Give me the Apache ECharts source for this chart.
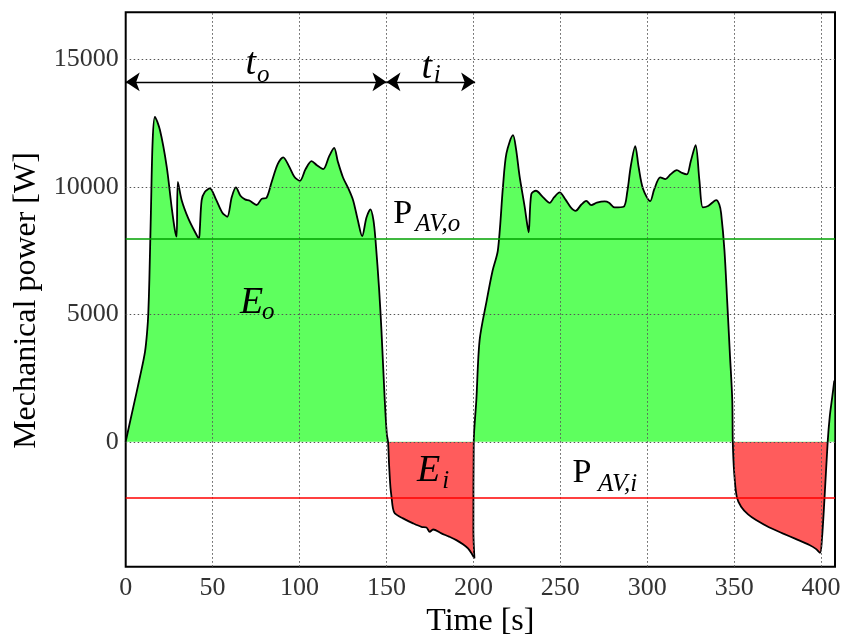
<!DOCTYPE html>
<html>
<head>
<meta charset="utf-8">
<script src="https://cdn.jsdelivr.net/npm/echarts@6/dist/echarts.min.js"></script>
<style>
  html, body { margin: 0; padding: 0; background: #fff; }
  #chart { width: 843px; height: 635px; }
</style>
</head>
<body>
<div id="chart"></div>
<script>
// time [s] and mechanical power [W]
const time = [
  0, 0.6, 4.4, 8.2, 11.1, 12.4, 13.0, 13.6, 14.5, 15.5, 16.8, 19.7, 23.6, 26.4, 28.3, 29.3, 30.0,
  32.2, 36, 39.8, 42.1, 42.6, 43.7, 45.5, 48.4, 52, 55.5, 58.4, 61, 63.4, 66, 68.6, 71.4, 75.3,
  78.2, 81, 84, 87.5, 90.6, 94, 97, 100.2, 103.5, 106.9, 110, 113.6, 117, 119.9, 122, 125, 128,
  130.8, 133.5, 136, 138.5, 140.8, 142.5, 143.7, 145.8, 147.1, 149, 150.2, 150.9,
  151.5, 152.3, 152.9, 153.7, 154.8, 159.5, 165.3, 170.1, 173, 174.9, 176.8, 181.6, 186, 190.2,
  194, 196.9, 199, 200.6, 200.0, 200.2, 201.7, 203.6, 207.7, 211, 214.1, 217, 219, 222.8, 224.5,
  226.6, 229.5, 230.9, 231.8, 233.3, 236, 240, 243.9, 246.5, 249.6, 253, 256, 258.8, 262, 264.9,
  267.8, 271, 275.5, 278, 281.2, 286.4, 288.5, 290.5, 293.1, 295, 297.5, 301.7, 304, 307.5, 310.5,
  313.5, 317, 320, 322.8, 325, 327.8, 330, 332, 335, 339.7, 341.5, 342.5, 344.4, 346, 347.5, 348.9,
  349.2, 350, 351.5, 354, 358, 362.6, 370, 377.9, 385, 393.3, 397, 399.4, 400.5, 401.9, 403.8,
  405, 406.5, 407.6
];
const power = [
  0, 200, 1370, 2550, 3530, 4380, 5040, 6340, 9000, 11800, 12750, 12230, 10790, 9220, 8305, 8050, 10200,
  9480, 8765, 8240, 7980, 8305, 9480, 9800, 9940, 9500, 9000, 8830, 9600, 9980, 9650, 9510, 9455, 9290,
  9530, 9573, 10200, 10900, 11160, 10800, 10400, 10240, 10700, 11010, 10850, 10700, 11200, 11530, 11000, 10370, 9950,
  9480, 8700, 8070, 8800, 9120, 8700, 7913, 5950, 4380, 1640, 300, 0,
  -900, -1800, -2160, -2600, -2810, -3005, -3200, -3335, -3360, -3530, -3440, -3594, -3720, -3856,
  -4020, -4183, -4380, -4575, -3500, 0, 1640, 4000, 5560, 6700, 7520, 10000, 11313, 12030, 11500,
  10400, 9220, 8550, 8215, 9718, 9850, 9600, 9376, 9600, 9784, 9500, 9200, 9062, 9300, 9455,
  9286, 9380, 9430, 9380, 9196, 9220, 9800, 10800, 11600, 10800, 9940, 9443, 9900, 10372, 10306,
  10500, 10659, 10550, 10490, 11000, 11640, 10260, 9196, 9250, 9482, 9300, 8960, 7520, 5500, 3500, 1640,
  0, -1200, -2160, -2550, -2850, -3070, -3350, -3590, -3800, -4050, -4200, -4355, -3800, -2290, 0,
  1000, 1800, 2400
];

const xTicks = [0, 50, 100, 150, 200, 250, 300, 350, 400];
const yTicks = [0, 5000, 10000, 15000];
const gridX = [50, 100, 150, 200, 250, 300, 350, 400];
const gridY = [0, 5000, 10000, 15000];

const avgOut = 7950;   // P_AV,o
const avgIn = -2200;   // P_AV,i

// duration arrows [start, end] at height arrowY
const arrowY = 14120;
const spanOut = [0, 150];
const spanIn = [150, 201];

// annotation texts: [text, t, power, kind]
const labels = [
  ['t', 71.9, 14810, 'big'], ['o', 79.1, 14386, 'sub'],
  ['t', 173.2, 14660, 'big'], ['i', 179.2, 14367, 'sub'],
  ['E', 72.4, 5430, 'big'], ['o', 82.0, 5069, 'sub'],
  ['E', 174.3, -1150, 'big'], ['i', 184.1, -1542, 'sub'],
  ['P', 159.4, 8925, 'roman'], ['AV,o', 179.5, 8541, 'sub'],
  ['P', 262.5, -1208, 'roman'], ['AV,i', 282.9, -1660, 'sub']
];

const points = time.map((t, i) => [t, power[i]]);
const serif = 'Liberation Serif';
const green = '#5eff5e';
const red = '#ff5c5c';

const labelStyle = {
  big: { fontSize: 38, fontStyle: 'italic' },
  sub: { fontSize: 25, fontStyle: 'italic' },
  roman: { fontSize: 34, fontStyle: 'normal' }
};

const chart = echarts.init(document.getElementById('chart'), null, { renderer: 'canvas' });

const option = {
  animation: false,
  backgroundColor: '#fff',
  grid: {
    left: 125.7,
    right: 8,
    top: 12.3,
    bottom: 68.3,
    containLabel: false,
    outerBoundsMode: 'none',
    show: true,
    borderColor: '#000',
    borderWidth: 2,
    backgroundColor: 'transparent'
  },
  xAxis: {
    type: 'value',
    min: 0,
    max: 408,
    name: 'Time [s]',
    nameLocation: 'middle',
    nameGap: 38,
    nameTextStyle: { fontFamily: serif, fontSize: 32, color: '#000' },
    axisLine: { show: false },
    axisTick: { show: false, customValues: xTicks },
    splitLine: { show: false },
    axisLabel: {
      customValues: xTicks,
      fontFamily: serif,
      fontSize: 26,
      color: '#333',
      margin: 8,
      formatter: v => String(v)
    }
  },
  yAxis: {
    type: 'value',
    min: -4900,
    max: 16850,
    name: 'Mechanical power [W]',
    nameLocation: 'middle',
    nameGap: 82,
    nameTextStyle: { fontFamily: serif, fontSize: 32, color: '#000', padding: [0, 22, 0, 0] },
    axisLine: { show: false },
    axisTick: { show: false, customValues: yTicks },
    splitLine: { show: false },
    axisLabel: {
      customValues: yTicks,
      fontFamily: serif,
      fontSize: 26,
      color: '#333',
      margin: 7,
      formatter: v => String(v)
    }
  },
  series: [
    {
      name: 'fill',
      type: 'line',
      data: points,
      smooth: 0.3,
      showSymbol: false,
      silent: true,
      z: 1,
      lineStyle: { width: 0, opacity: 0 },
      areaStyle: { opacity: 1, origin: 0, color: green }
    },
    {
      name: 'grid',
      type: 'line',
      data: [],
      z: 2,
      silent: true,
      markLine: {
        silent: true,
        symbol: 'none',
        animation: false,
        label: { show: false },
        lineStyle: { type: [1.5, 2.5], color: '#555', width: 1 },
        data: gridX.map(v => ({ xAxis: v })).concat(gridY.map(v => ({ yAxis: v })))
      }
    },
    {
      name: 'curve',
      type: 'line',
      data: points,
      smooth: 0.3,
      showSymbol: false,
      z: 3,
      lineStyle: { color: '#000', width: 1.8 },
      markLine: {
        silent: true,
        symbol: 'none',
        animation: false,
        label: { show: false },
        data: [
          { yAxis: avgOut, lineStyle: { color: '#00a000', width: 1.5, type: 'solid' } },
          { yAxis: avgIn, lineStyle: { color: '#ff0000', width: 1.5, type: 'solid' } }
        ]
      }
    },
    {
      name: 'arrows',
      type: 'line',
      data: [],
      z: 4,
      markLine: {
        silent: true,
        animation: false,
        symbol: ['arrow', 'arrow'],
        symbolSize: 14,
        label: { show: false },
        lineStyle: { color: '#000', width: 1.3, type: 'solid' },
        data: [
          [{ coord: [spanOut[0], arrowY] }, { coord: [spanOut[1], arrowY] }],
          [{ coord: [spanIn[0], arrowY] }, { coord: [spanIn[1], arrowY] }]
        ]
      },
      markPoint: {
        silent: true,
        animation: false,
        symbol: 'circle',
        symbolSize: 0,
        data: labels.map(([text, t, p, kind]) => ({
          coord: [t, p],
          label: {
            show: true,
            position: 'inside',
            formatter: text,
            color: '#000',
            fontFamily: serif,
            fontSize: labelStyle[kind].fontSize,
            fontStyle: labelStyle[kind].fontStyle
          }
        }))
      }
    }
  ]
};

chart.setOption(option);

// split the fill colour at power = 0 with a gradient in pixel space
const y0 = chart.convertToPixel({ gridIndex: 0 }, [0, 0])[1];
chart.setOption({
  series: [{
    name: 'fill',
    areaStyle: {
      color: {
        type: 'linear', x: 0, y: y0 - 1, x2: 0, y2: y0 + 1, global: true,
        colorStops: [
          { offset: 0, color: green }, { offset: 0.5, color: green },
          { offset: 0.5, color: red }, { offset: 1, color: red }
        ]
      }
    }
  }]
});
</script>
</body>
</html>
